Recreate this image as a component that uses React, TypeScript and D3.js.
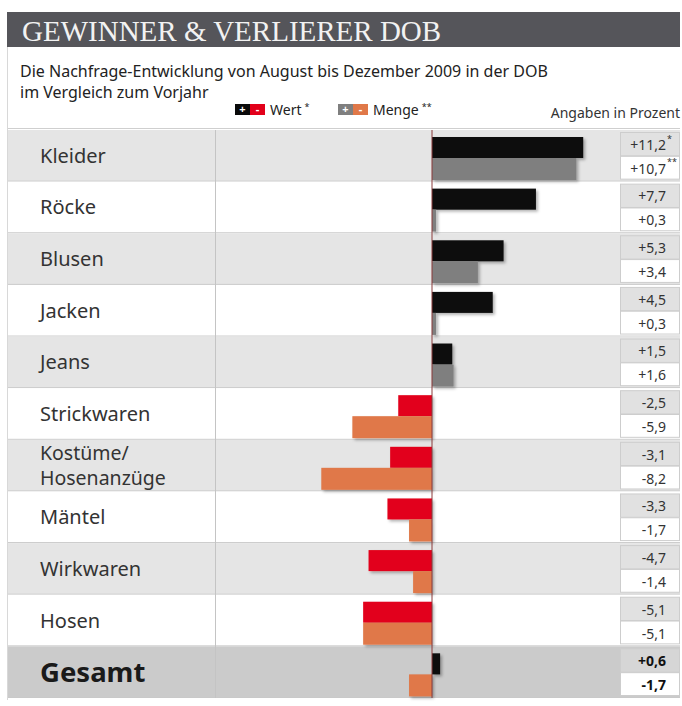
import React from "react";
import * as d3 from "d3";

const categories = ["Kleider", "Röcke", "Blusen", "Jacken", "Jeans", "Strickwaren", "Kostüme/\nHosenanzüge", "Mäntel", "Wirkwaren", "Hosen", "Gesamt"];
const wert = [11.2, 7.7, 5.3, 4.5, 1.5, -2.5, -3.1, -3.3, -4.7, -5.1, 0.6];
const menge = [10.7, 0.3, 3.4, 0.3, 1.6, -5.9, -8.2, -1.7, -1.4, -5.1, -1.7];
const wertMarks = ["*", "", "", "", "", "", "", "", "", "", ""];
const mengeMarks = ["**", "", "", "", "", "", "", "", "", "", ""];

const W = 682, H = 706;
const FONT = "'Noto Sans', 'Open Sans', sans-serif";

const locale = d3.formatLocale({ decimal: ",", thousands: ".", grouping: [3], currency: ["", "€"], minus: "-" });
const fmt = locale.format("+.1f");

export default function App() {
  const x = d3.scaleLinear().domain([-10, 10]).range([297, 567]);
  const y = d3.scaleBand<string>().domain(categories).range([130, 698]);
  const rh = y.step();
  const left = 8, right = 680, labelDiv = 215, valL = 620;
  const colWertPos = "#0a0a0a", colWertNeg = "#e2001a", colMengePos = "#7f7f7f", colMengeNeg = "#e07848";
  const barH = 21;

  return (
    <svg width={W} height={H} style={{ position: "absolute", left: 0, top: 0, background: "#fff" }}>
      <defs>
        <filter id="sh" x="-10%" y="-30%" width="130%" height="170%">
          <feDropShadow dx="2" dy="2" stdDeviation="1.5" floodColor="#000" floodOpacity="0.3" />
        </filter>
      </defs>
      {/* Title bar */}
      <rect x={7} y={12} width={673} height={35} fill="#55555a" />
      <text x={22} y={41} fill="#f2f2f2" fontFamily="'Liberation Serif', 'DejaVu Serif', serif" fontSize={29}>GEWINNER &amp; VERLIERER DOB</text>
      <line x1={7.5} x2={7.5} y1={47} y2={700} stroke="#d8d8d8" />
      {/* Subtitle */}
      <text x={20} y={77} fill="#222" fontFamily={FONT} fontSize={16}>Die Nachfrage-Entwicklung von August bis Dezember 2009 in der DOB</text>
      <text x={20} y={98} fill="#222" fontFamily={FONT} fontSize={16}>im Vergleich zum Vorjahr</text>
      {/* Legend */}
      <g fontFamily={FONT}>
        <rect x={235} y={104} width={15} height={11} fill={colWertPos} />
        <rect x={250} y={104} width={15} height={11} fill={colWertNeg} />
        <text x={242.5} y={113} fill="#fff" fontSize={11} textAnchor="middle" fontWeight="bold">+</text>
        <text x={257.5} y={113} fill="#fff" fontSize={11} textAnchor="middle" fontWeight="bold">-</text>
        <text x={270} y={115} fill="#222" fontSize={14}>Wert<tspan dx={3} dy={-5} fontSize={9}>*</tspan></text>
        <rect x={338} y={104} width={15} height={11} fill={colMengePos} />
        <rect x={353} y={104} width={15} height={11} fill={colMengeNeg} />
        <text x={345.5} y={113} fill="#fff" fontSize={11} textAnchor="middle" fontWeight="bold">+</text>
        <text x={360.5} y={113} fill="#fff" fontSize={11} textAnchor="middle" fontWeight="bold">-</text>
        <text x={373} y={115} fill="#222" fontSize={14}>Menge<tspan dx={3} dy={-5} fontSize={9}>**</tspan></text>
        <text x={680} y={118} fill="#333" fontSize={14} textAnchor="end">Angaben in Prozent</text>
      </g>
      <line x1={left} x2={right} y1={128.5} y2={128.5} stroke="#cfcfcf" />
      {/* Rows */}
      {categories.map((c, i) => {
        const top = y(c)!;
        const last = i === categories.length - 1;
        const fill = last ? "#cbcbcb" : i % 2 === 0 ? "#e5e5e5" : "#ffffff";
        return (
          <g key={"row" + i}>
            <rect x={left} y={top} width={right - left} height={rh} fill={fill} />
            <line x1={left} x2={right} y1={top + rh - 0.5} y2={top + rh - 0.5} stroke="#c9c9c9" />
          </g>
        );
      })}
      <line x1={labelDiv + 0.5} x2={labelDiv + 0.5} y1={130} y2={698} stroke="#c4c4c4" />
      {/* Labels */}
      {categories.map((c, i) => {
        const top = y(c)!;
        const last = i === categories.length - 1;
        const lines = c.split("\n");
        if (last) {
          return <text key={"l" + i} x={40} y={top + rh / 2 + 10} fill="#1a1a1a" fontFamily={FONT} fontSize={27.5} fontWeight="bold">{c}</text>;
        }
        if (lines.length > 1) {
          return (
            <g key={"l" + i}>
              {lines.map((l, k) => (
                <text key={k} x={40} y={top + 20 + k * 25} fill="#333" fontFamily={FONT} fontSize={19.5}>{l}</text>
              ))}
            </g>
          );
        }
        return <text key={"l" + i} x={40} y={top + rh / 2 + 7} fill="#333" fontFamily={FONT} fontSize={20}>{c}</text>;
      })}
      {/* Bars */}
      <g filter="url(#sh)">
        {categories.map((c, i) => {
          const top = y(c)!;
          const v = wert[i];
          return <rect key={"w" + i} x={Math.min(x(0), x(v))} y={top + 7} width={Math.abs(x(v) - x(0))} height={barH} fill={v >= 0 ? colWertPos : colWertNeg} />;
        })}
        {categories.map((c, i) => {
          const top = y(c)!;
          const v = menge[i];
          return <rect key={"m" + i} x={Math.min(x(0), x(v))} y={top + 7 + barH} width={Math.abs(x(v) - x(0))} height={barH + 1} fill={v >= 0 ? colMengePos : colMengeNeg} />;
        })}
      </g>
      <line x1={x(0)} x2={x(0)} y1={130} y2={698} stroke="#8a3a3a" strokeWidth={1} />
      {/* Value cells */}
      {categories.map((c, i) => {
        const top = y(c)!;
        const mid = top + rh / 2;
        const last = i === categories.length - 1;
        return (
          <g key={"v" + i} fontFamily={FONT} fontSize={14} fill="#333">
            <rect x={valL + 0.5} y={top + 2.5} width={right - valL - 1} height={rh / 2 - 2.5} fill={last ? "#d6d6d6" : "#e1e1e1"} stroke="#cdcdcd" />
            <rect x={valL + 0.5} y={mid + 0.5} width={right - valL - 1} height={rh / 2 - 3} fill="#ffffff" stroke="#cdcdcd" />
            <text x={666} y={mid - 6} textAnchor="end" fontWeight={last ? "bold" : "normal"} fill={last ? "#111" : "#333"}>{fmt(wert[i])}</text>
            {wertMarks[i] && <text x={667} y={mid - 14} fontSize={9}>{wertMarks[i]}</text>}
            <text x={666} y={mid + 18} textAnchor="end" fontWeight={last ? "bold" : "normal"} fill={last ? "#111" : "#333"}>{fmt(menge[i])}</text>
            {mengeMarks[i] && <text x={667} y={mid + 9} fontSize={9}>{mengeMarks[i]}</text>}
          </g>
        );
      })}
    </svg>
  );
}
